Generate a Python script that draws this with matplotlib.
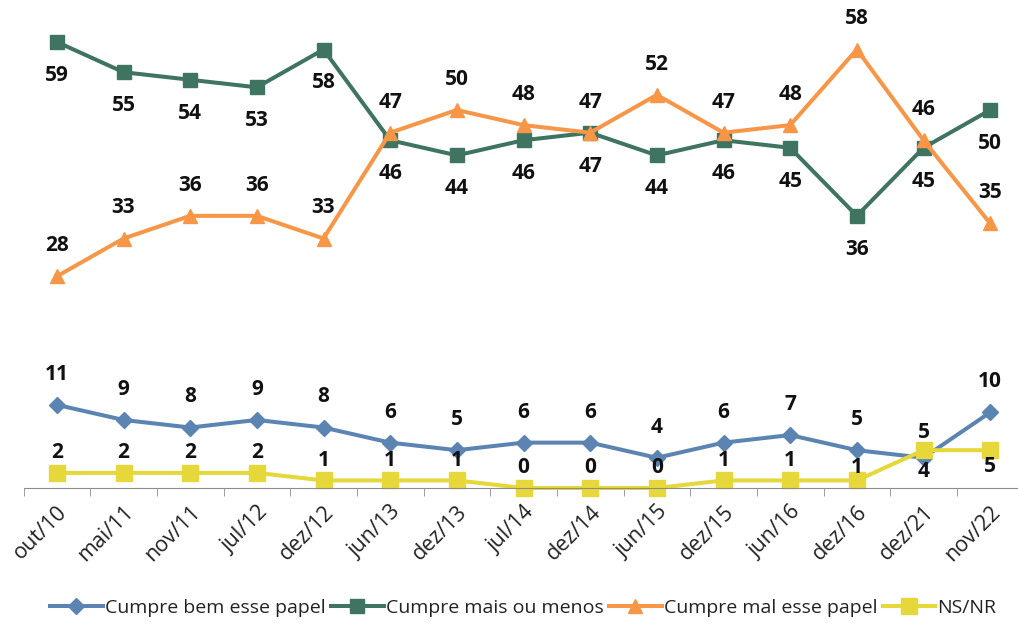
import numpy as np
import matplotlib.pyplot as plt

plt.rcParams['font.family'] = ['Open Sans', 'DejaVu Sans']

periods = ['out/10', 'mai/11', 'nov/11', 'jul/12', 'dez/12', 'jun/13', 'dez/13',
           'jul/14', 'dez/14', 'jun/15', 'dez/15', 'jun/16', 'dez/16', 'dez/21', 'nov/22']

bem = [11, 9, 8, 9, 8, 6, 5, 6, 6, 4, 6, 7, 5, 4, 10]
mais_menos = [59, 55, 54, 53, 58, 46, 44, 46, 47, 44, 46, 45, 36, 45, 50]
mal = [28, 33, 36, 36, 33, 47, 50, 48, 47, 52, 47, 48, 58, 46, 35]
nsnr = [2, 2, 2, 2, 1, 1, 1, 0, 0, 0, 1, 1, 1, 5, 5]

x = np.arange(len(periods))

fig = plt.figure(figsize=(10.18, 6.24), dpi=100)
ax = fig.add_axes([23.5 / 1018, 136 / 624, 1000 / 1018, 453.6 / 624])

c_bem = '#5B84B2'
c_mm = '#3F7461'
c_mal = '#F79646'
c_ns = '#E6D73A'

series = [
    (bem, c_bem, 'D', 8.5, 'Cumpre bem esse papel'),
    (mais_menos, c_mm, 's', 9.5, 'Cumpre mais ou menos'),
    (mal, c_mal, '^', 10.5, 'Cumpre mal esse papel'),
    (nsnr, c_ns, 's', 11, 'NS/NR'),
]
for vals, col, mk, ms, lab in series:
    ax.plot(x, vals, color=col, marker=mk, markersize=ms, linewidth=2.9,
            label=lab, clip_on=False)

def put(vals, offs):
    for i, v in enumerate(vals):
        ax.annotate(str(v), (x[i], v), xytext=(0, offs[i]), textcoords='offset points',
                    ha='center', va='center', fontsize=15, fontweight='bold',
                    color='#111111')

put(mais_menos, [-24] * 15)
put(mal, [22] * 15)
put(bem, [22] * 13 + [-10, 22])
put(nsnr, [14.5] * 12 + [9, 13, -11.5])

ax.set_xlim(-0.5, 14.5)
ax.set_ylim(0, 60)
for s in ['left', 'right', 'top']:
    ax.spines[s].set_visible(False)
ax.spines['bottom'].set_color('#8c8c8c')
ax.set_yticks([])
ax.set_xticks(x)
ax.set_xticklabels(periods, rotation=45, ha='right', rotation_mode='anchor',
                   fontsize=15.5, color='#222222')
ax.tick_params(axis='x', which='major', length=0, pad=10)
ax.set_xticks(np.arange(-0.5, 15, 1), minor=True)
ax.tick_params(axis='x', which='minor', length=6, color='#8c8c8c')

fig.legend(loc='center', bbox_to_anchor=(0.514, 1 - 608 / 624), ncol=4, frameon=False,
           fontsize=14, handlelength=2.7, columnspacing=0.3, handletextpad=0.1,
           labelcolor='#222222')

fig.savefig('out.png', dpi=100)
